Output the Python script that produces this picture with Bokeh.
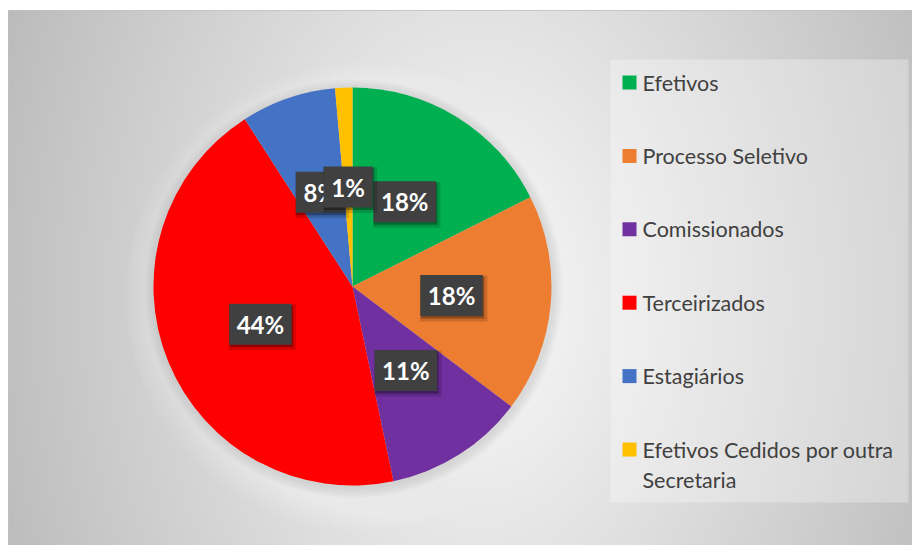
import textwrap
import numpy as np
from bokeh.plotting import figure
from bokeh.core.properties import value
from bokeh.embed import file_html
from bokeh.resources import INLINE

# ---- data ----
categories = ["Efetivos", "Processo Seletivo", "Comissionados", "Terceirizados",
              "Estagiários", "Efetivos Cedidos por outra Secretaria"]
shares = [17.6, 17.7, 11.4, 44.2, 7.7, 1.4]
pct_labels = ["18%", "18%", "11%", "44%", "8%", "1%"]
colors = ["#00b050", "#ed7d31", "#7030a0", "#ff0000", "#4472c4", "#ffc000"]

# page-pixel coordinates: frame spans page x 8..912, page y 10..545
FW, FH = 904, 535
p = figure(width=912, height=545, x_range=(8, 912), y_range=(0, FH),
           output_backend="svg", toolbar_location=None,
           x_axis_type=None, y_axis_type=None,
           min_border_left=8, min_border_top=10,
           min_border_right=0, min_border_bottom=0)
p.grid.visible = False
p.outline_line_color = "#c0c0c0"
p.background_fill_color = "#dddddd"
p.border_fill_color = "white"


def py(page_y):
    return 545 - page_y


# background radial gradient
ny, nx = 134, 226
gx = np.linspace(8, 912, nx)
gy = np.linspace(0, FH, ny)
X, Y = np.meshgrid(gx, gy)
gcx, gcy = 480, py(300)
d = np.sqrt(((X - gcx) / 460.0) ** 2 + 0.15 * ((Y - gcy) / 264.0) ** 2)
v = np.clip(250 - 56 * d, 180, 255).astype(np.uint32)
img = (np.uint32(255) << 24) | (v << 16) | (v << 8) | v
p.image_rgba(image=[img.astype(np.uint32)], x=8, y=0, dw=FW, dh=FH)

# pie
cx, cy, R = 352, py(286), 199
total = float(sum(shares))
fr = np.array(shares) / total
cum = np.concatenate([[0], np.cumsum(fr)])
start = np.pi / 2 - cum[:-1] * 2 * np.pi
end = np.pi / 2 - cum[1:] * 2 * np.pi

# soft white glow + soft shadow under pie
for k in range(36, 2, -3):
    p.circle(x=[cx + 8], y=[cy - 10], radius=R + k, fill_color="white",
             fill_alpha=0.045, line_color=None)
for k in range(10, 0, -2):
    p.circle(x=[cx + 1], y=[cy - 2], radius=R + k, fill_color="#707070",
             fill_alpha=0.035, line_color=None)

p.wedge(x=cx, y=cy, radius=R, start_angle=start, end_angle=end,
        direction="clock", fill_color=colors, line_color=None)

# data labels
mid = (cum[:-1] + cum[1:]) / 2 * 2 * np.pi
rl = R * 0.5
for i, lab in enumerate(pct_labels):
    lx = cx + rl * np.sin(mid[i])
    ly = cy + rl * np.cos(mid[i])
    bw = len(lab) * 13.5 + 22
    bh = 41
    p.rect(x=[lx + 2], y=[ly - 3], width=bw + 5, height=bh + 5,
           fill_color="black", fill_alpha=0.15, line_color=None)
    p.rect(x=[lx + 1], y=[ly - 2], width=bw + 1, height=bh + 1,
           fill_color="black", fill_alpha=0.3, line_color=None)
    p.rect(x=[lx], y=[ly], width=bw, height=bh,
           fill_color="#404040", line_color=None)
    p.text(x=[lx], y=[ly], text=[lab], text_color="white",
           text_font=value("Lato"), text_font_style="bold",
           text_font_size="24px", text_align="center",
           text_baseline="middle")

# legend panel
p.rect(x=[759], y=[py(280.5)], width=298, height=443,
       fill_color="white", fill_alpha=0.3, line_color=None)
item_y0, step = py(82), 73.4
for i, name in enumerate(categories):
    iy = item_y0 - i * step
    p.rect(x=[629], y=[iy], width=14, height=14,
           fill_color=colors[i], line_color=None)
    for j, line in enumerate(textwrap.wrap(name, 26)):
        p.text(x=[642], y=[iy - j * 30], text=[line], text_color="#404040",
               text_font=value("Lato"), text_font_size="21.5px",
               text_align="left", text_baseline="middle")

open("out.html", "w").write(file_html(p, INLINE))
